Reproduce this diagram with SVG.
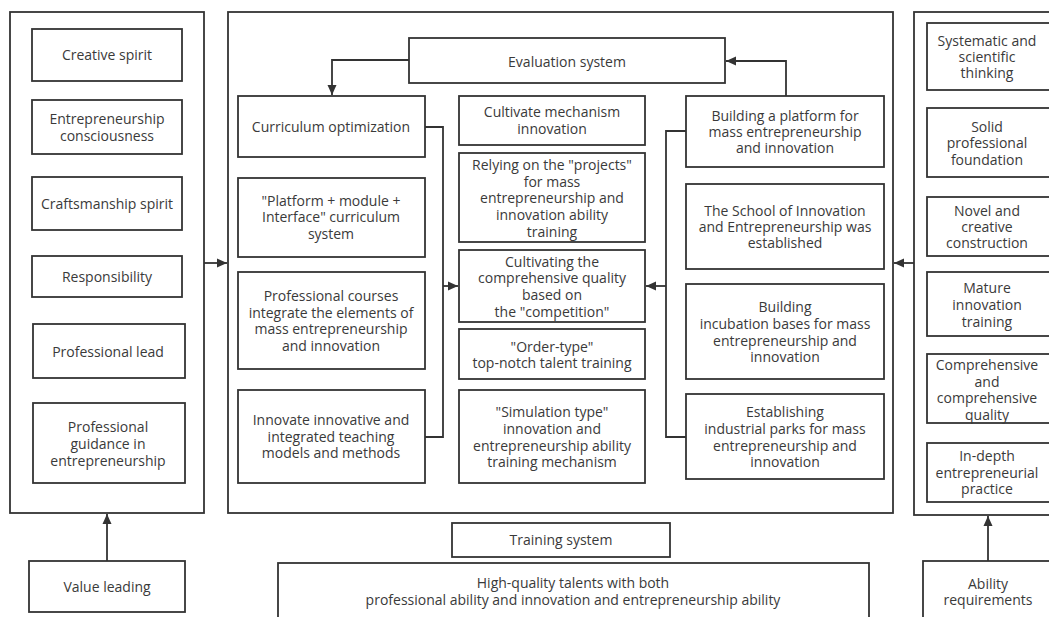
<svg xmlns="http://www.w3.org/2000/svg" width="1049" height="617" viewBox="0 0 1049 617">
<defs>
<marker id="ah" viewBox="0 0 10 10" refX="10" refY="5" markerWidth="10" markerHeight="10" markerUnits="userSpaceOnUse" orient="auto">
<path d="M0,0.5 L10,5 L0,9.5 z" fill="#333"/>
</marker>
<style>
rect{fill:#fff;stroke:#333;stroke-width:1.8}
text{font-family:"Open Sans","Noto Sans",sans-serif;font-size:14px;fill:#3a3a3a;text-anchor:middle}
.c{fill:none;stroke:#333;stroke-width:1.8}
</style>
</defs>
<rect x="0" y="0" width="1049" height="617" style="fill:#fff;stroke:none"/>
<g id="panel-left"><rect x="10" y="12" width="194" height="501"/></g>
<g id="panel-mid"><rect x="228" y="12" width="665" height="501"/></g>
<g id="panel-right"><rect x="914" y="12" width="150" height="503"/></g>

<g id="l1"><rect x="32" y="29" width="150" height="52"/><text x="107" y="60">Creative spirit</text></g>
<g id="l2"><rect x="32" y="100" width="150" height="54"/><text x="107" y="124">Entrepreneurship</text><text x="107" y="141">consciousness</text></g>
<g id="l3"><rect x="32" y="177" width="150" height="53"/><text x="107" y="209">Craftsmanship spirit</text></g>
<g id="l4"><rect x="32" y="256" width="150" height="41"/><text x="107" y="282">Responsibility</text></g>
<g id="l5"><rect x="33" y="324" width="152" height="54"/><text x="108" y="357">Professional lead</text></g>
<g id="l6"><rect x="33" y="403" width="152" height="80"/><text x="108" y="432">Professional</text><text x="108" y="449">guidance in</text><text x="108" y="466">entrepreneurship</text></g>
<g id="value"><rect x="29" y="561" width="156" height="51"/><text x="107" y="592">Value leading</text></g>

<g id="eval"><rect x="409" y="38" width="316" height="45"/><text x="567" y="67">Evaluation system</text></g>
<g id="m1"><rect x="238" y="96" width="187" height="61"/><text x="331" y="132">Curriculum optimization</text></g>
<g id="m2"><rect x="238" y="178" width="187" height="79"/><text x="331" y="206">"Platform + module +</text><text x="331" y="222">Interface" curriculum</text><text x="331" y="239">system</text></g>
<g id="m3"><rect x="238" y="272" width="187" height="97"/><text x="331" y="301">Professional courses</text><text x="331" y="318">integrate the elements of</text><text x="331" y="334">mass entrepreneurship</text><text x="331" y="351">and innovation</text></g>
<g id="m4"><rect x="238" y="390" width="187" height="93"/><text x="331" y="425">Innovate innovative and</text><text x="331" y="442">integrated teaching</text><text x="331" y="458">models and methods</text></g>

<g id="c1"><rect x="459" y="96" width="186" height="49"/><text x="552" y="117">Cultivate mechanism</text><text x="552" y="134">innovation</text></g>
<g id="c2"><rect x="459" y="153" width="186" height="89"/><text x="552" y="170">Relying on the "projects"</text><text x="552" y="187">for mass</text><text x="552" y="203">entrepreneurship and</text><text x="552" y="220">innovation ability</text><text x="552" y="237">training</text></g>
<g id="c3"><rect x="459" y="250" width="186" height="72"/><text x="552" y="267">Cultivating the</text><text x="552" y="283">comprehensive quality</text><text x="552" y="300">based on</text><text x="552" y="317">the "competition"</text></g>
<g id="c4"><rect x="459" y="329" width="186" height="50"/><text x="552" y="352">"Order-type"</text><text x="552" y="368">top-notch talent training</text></g>
<g id="c5"><rect x="459" y="390" width="186" height="93"/><text x="552" y="417">"Simulation type"</text><text x="552" y="434">innovation and</text><text x="552" y="451">entrepreneurship ability</text><text x="552" y="467">training mechanism</text></g>

<g id="r1"><rect x="686" y="96" width="198" height="71"/><text x="785" y="121">Building a platform for</text><text x="785" y="137">mass entrepreneurship</text><text x="785" y="153">and innovation</text></g>
<g id="r2"><rect x="686" y="184" width="198" height="85"/><text x="785" y="216">The School of Innovation</text><text x="785" y="232">and Entrepreneurship was</text><text x="785" y="248">established</text></g>
<g id="r3"><rect x="686" y="284" width="198" height="95"/><text x="785" y="312">Building</text><text x="785" y="329">incubation bases for mass</text><text x="785" y="346">entrepreneurship and</text><text x="785" y="362">innovation</text></g>
<g id="r4"><rect x="686" y="394" width="198" height="85"/><text x="785" y="417">Establishing</text><text x="785" y="434">industrial parks for mass</text><text x="785" y="451">entrepreneurship and</text><text x="785" y="467">innovation</text></g>

<g id="a1"><rect x="927" y="23" width="130" height="67"/><text x="987" y="46">Systematic and</text><text x="987" y="62">scientific</text><text x="987" y="78">thinking</text></g>
<g id="a2"><rect x="927" y="108" width="130" height="69"/><text x="987" y="132">Solid</text><text x="987" y="148">professional</text><text x="987" y="165">foundation</text></g>
<g id="a3"><rect x="927" y="197" width="130" height="59"/><text x="987" y="216">Novel and</text><text x="987" y="232">creative</text><text x="987" y="248">construction</text></g>
<g id="a4"><rect x="927" y="272" width="130" height="64"/><text x="987" y="293">Mature</text><text x="987" y="310">innovation</text><text x="987" y="327">training</text></g>
<g id="a5"><rect x="927" y="354" width="130" height="69"/><text x="987" y="370">Comprehensive</text><text x="987" y="387">and</text><text x="987" y="403">comprehensive</text><text x="987" y="420">quality</text></g>
<g id="a6"><rect x="927" y="443" width="130" height="59"/><text x="987" y="461">In-depth</text><text x="987" y="478">entrepreneurial</text><text x="987" y="494">practice</text></g>
<g id="ability"><rect x="923" y="561" width="140" height="70"/><text x="988" y="589">Ability</text><text x="988" y="605">requirements</text></g>

<g id="training"><rect x="452" y="523" width="218" height="34"/><text x="561" y="545">Training system</text></g>
<g id="talents"><rect x="278" y="563" width="591" height="70"/><text x="573" y="588">High-quality talents with both</text><text x="573" y="605">professional ability and innovation and entrepreneurship ability</text></g>

<g id="connectors">
<path class="c" d="M204,263 H227" marker-end="url(#ah)"/>
<path class="c" d="M914,263 H894" marker-end="url(#ah)"/>
<path class="c" d="M107,561 V514" marker-end="url(#ah)"/>
<path class="c" d="M988,561 V516" marker-end="url(#ah)"/>
<path class="c" d="M409,60 H332 V95" marker-end="url(#ah)"/>
<path class="c" d="M786,96 V61 H726" marker-end="url(#ah)"/>
<path class="c" d="M425,127 H443 V437 H425"/>
<path class="c" d="M443,286 H458" marker-end="url(#ah)"/>
<path class="c" d="M686,131 H666 V437 H686"/>
<path class="c" d="M666,286 H646" marker-end="url(#ah)"/>
</g>
</svg>
